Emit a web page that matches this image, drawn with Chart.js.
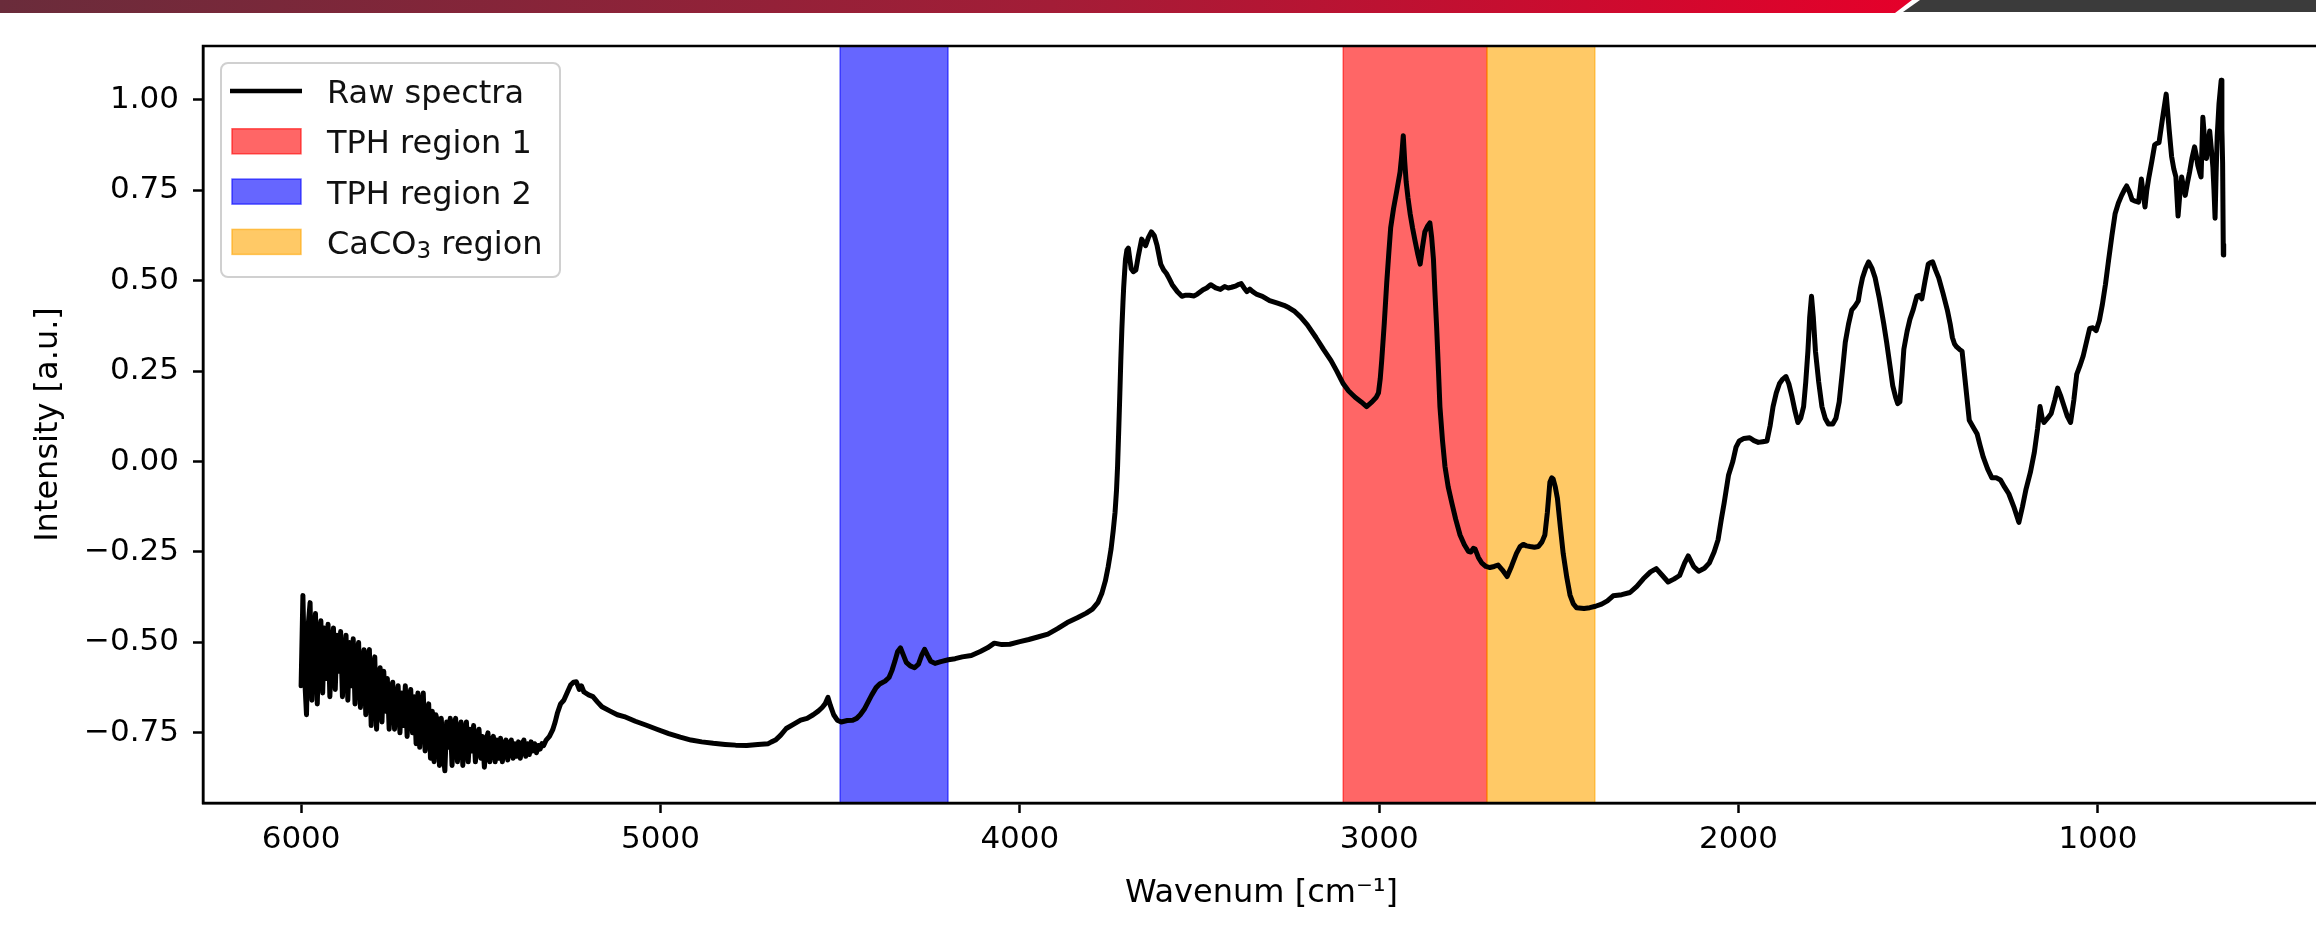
<!DOCTYPE html>
<html lang="en">
<head>
<meta charset="UTF-8">
<title>Raw spectra - TPH and CaCO3 regions</title>
<script src="https://cdn.jsdelivr.net/npm/chart.js@4.4.1/dist/chart.umd.min.js"></script>
<style>
    html, body {
        margin: 0;
        padding: 0;
        background: #fff;
        overflow: hidden;
    }
    #page {
        position: relative;
        width: 2316px;
        height: 947px;
        overflow: hidden;
    }
    #spectrum {
        position: absolute;
        left: 0;
        top: 0;
    }
    .bar-red {
        position: absolute;
        left: 0;
        top: 0;
        width: 1912px;
        height: 13px;
        background: linear-gradient(90deg, #6a2c3b 0%, #a31d37 55%, #e5002a 100%);
        clip-path: polygon(0 0, 1912px 0, 1895px 13px, 0 13px);
    }
    .bar-dark {
        position: absolute;
        left: 1903px;
        top: 0;
        width: 413px;
        height: 12px;
        background: #3b3b3b;
        clip-path: polygon(17px 0, 100% 0, 100% 100%, 0 100%);
    }
</style>
</head>
<body>
<div id="page">
    <canvas id="spectrum" width="2330" height="947"></canvas>
    <div class="bar-red"></div>
    <div class="bar-dark"></div>
</div>

<script>
// values
const wavenumber = [
    6000,5995,5990,5985,5980,5975,5970,5965,5960,5955,
    5950,5945,5940,5935,5930,5925,5920,5915,5910,5905,
    5900,5895,5890,5885,5880,5875,5870,5865,5860,5855,
    5850,5845,5840,5835,5830,5825,5820,5815,5810,5805,
    5800,5795,5790,5785,5780,5775,5770,5765,5760,5755,
    5750,5745,5740,5735,5730,5725,5720,5715,5710,5705,
    5700,5695,5690,5685,5680,5675,5670,5665,5660,5655,
    5650,5645,5640,5635,5630,5625,5620,5615,5610,5605,
    5600,5595,5590,5585,5580,5575,5570,5565,5560,5555,
    5550,5545,5540,5535,5530,5525,5520,5515,5510,5505,
    5500,5495,5490,5485,5480,5475,5470,5465,5460,5455,
    5450,5445,5440,5435,5430,5425,5420,5415,5410,5405,
    5400,5395,5390,5385,5380,5375,5370,5365,5360,5355,
    5350,5345,5340,5335,5330,5325,5318,
    5309,5300,5293,5287,5278,5269,5260,
    5250,5242,5234,5226,5220,5213,5200,5188,5175,5163,
    5140,5120,5101,5070,5039,5010,4977,4945,4915,4885,
    4853,4820,4791,4760,4729,4700,4691,4680,4666,4650,
    4629,4610,4592,4575,4561,4550,4542,4534,4527,4518,
    4508,4497,4480,4465,4454,4444,4433,4420,4412,4400,
    4390,4375,4364,4356,4348,4340,4332,4324,4316,4305,
    4293,4282,4273,4265,4257,4248,4236,4220,4199,4180,
    4160,4135,4110,4090,4071,4050,4028,4000,3975,3950,
    3922,3895,3868,3840,3815,3798,3783,3772,3762,3754,
    3746,3740,3735,3731,3728,3725,3722,3719,3716,3713,
    3711,3708,3706,3702,3698,3694,3690,3684,3677,3670,
    3661,3655,3650,3642,3634,3626,3618,3608,3600,3592,
    3584,3576,3562,3549,3538,3528,3515,3506,3490,3480,
    3469,3455,3442,3430,3420,3411,3398,3390,3384,3376,
    3368,3360,3352,3340,3325,3305,3283,3265,3251,3235,
    3219,3200,3176,3155,3134,3118,3100,3085,3067,3050,
    3035,3020,3008,3002,2997,2993,2986,2979,2973,2968,
    2960,2951,2942,2937,2933,2929,2925,2920,2914,2907,
    2900,2893,2886,2880,2873,2866,2859,2854,2849,2845,
    2840,2835,2831,2824,2817,2808,2798,2787,2775,2763,
    2752,2745,2738,2733,2724,2715,2703,2692,2680,2669,
    2657,2644,2632,2618,2608,2599,2590,2580,2568,2557,
    2547,2539,2532,2525,2520,2516,2510,2504,2496,2488,
    2478,2469,2460,2451,2430,2414,2398,2381,2365,2349,
    2325,2302,2283,2265,2245,2229,2212,2196,2180,2164,
    2150,2140,2125,2111,2095,2081,2068,2057,2048,2040,
    2028,2016,2007,1998,1985,1969,1957,1945,1933,1921,
    1912,1904,1895,1886,1877,1868,1860,1851,1843,1835,
    1827,1819,1813,1807,1802,1797,1792,1786,1777,1768,
    1759,1750,1738,1729,1720,1711,1703,1694,1685,1676,
    1667,1661,1655,1646,1638,1629,1620,1608,1596,1588,
    1579,1571,1563,1557,1551,1545,1540,1531,1523,1514,
    1504,1497,1490,1481,1472,1466,1460,1452,1443,1431,
    1419,1411,1405,1399,1393,1385,1378,1368,1358,1347,
    1336,1328,1319,1307,1295,1283,1271,1260,1248,1234,
    1220,1210,1200,1188,1177,1168,1161,1155,1150,1140,
    1130,1120,1112,1103,1094,1085,1076,1067,1059,1050,
    1041,1032,1023,1014,1005,996,988,979,970,961,
    952,943,934,927,920,912,905,896,887,879,
    874,869,864,858,850,842,836,830,820,810,
    802,795,789,783,777,772,767,762,757,751,
    745,738,731,726,722,717,713,708,703,698,
    694,689,684,680,677,674,671,668,663,657,
    655,653,651,650
];

const intensity = [
    -0.62,-0.37,-0.60,-0.70,-0.45,-0.39,-0.66,-0.50,-0.42,-0.67,
    -0.48,-0.44,-0.64,-0.46,-0.60,-0.45,-0.65,-0.52,-0.46,-0.63,
    -0.48,-0.58,-0.47,-0.65,-0.55,-0.48,-0.66,-0.50,-0.62,-0.49,
    -0.67,-0.53,-0.50,-0.68,-0.57,-0.52,-0.70,-0.54,-0.52,-0.73,
    -0.58,-0.54,-0.74,-0.60,-0.57,-0.72,-0.58,-0.69,-0.60,-0.74,
    -0.63,-0.61,-0.74,-0.66,-0.62,-0.75,-0.64,-0.73,-0.62,-0.76,
    -0.66,-0.63,-0.75,-0.65,-0.78,-0.64,-0.79,-0.68,-0.64,-0.80,
    -0.70,-0.67,-0.82,-0.69,-0.83,-0.70,-0.72,-0.84,-0.71,-0.80,
    -0.855,-0.72,-0.79,-0.71,-0.84,-0.73,-0.71,-0.83,-0.74,-0.72,
    -0.84,-0.75,-0.72,-0.83,-0.74,-0.80,-0.73,-0.83,-0.76,-0.74,
    -0.82,-0.76,-0.845,-0.77,-0.75,-0.83,-0.77,-0.76,-0.83,-0.77,
    -0.82,-0.765,-0.83,-0.78,-0.77,-0.825,-0.78,-0.77,-0.82,-0.78,
    -0.815,-0.775,-0.82,-0.78,-0.77,-0.815,-0.78,-0.81,-0.775,-0.80,
    -0.78,-0.805,-0.785,-0.795,-0.78,-0.785,-0.77,
    -0.76,-0.742,-0.72,-0.696,-0.67,-0.66,-0.64,
    -0.618,-0.61,-0.609,-0.63,-0.62,-0.637,-0.645,-0.65,-0.665,-0.678,
    -0.69,-0.70,-0.705,-0.718,-0.729,-0.74,-0.752,-0.762,-0.77,-0.775,
    -0.779,-0.782,-0.784,-0.785,-0.782,-0.78,-0.775,-0.77,-0.757,-0.738,
    -0.726,-0.715,-0.71,-0.70,-0.69,-0.68,-0.67,-0.652,-0.675,-0.70,
    -0.715,-0.72,-0.716,-0.715,-0.71,-0.70,-0.685,-0.66,-0.645,-0.625,
    -0.615,-0.607,-0.597,-0.578,-0.553,-0.525,-0.515,-0.535,-0.555,-0.565,
    -0.57,-0.56,-0.535,-0.519,-0.535,-0.552,-0.558,-0.553,-0.548,-0.545,
    -0.54,-0.536,-0.525,-0.515,-0.502,-0.506,-0.505,-0.498,-0.492,-0.485,
    -0.477,-0.462,-0.445,-0.432,-0.419,-0.408,-0.39,-0.365,-0.33,-0.29,
    -0.241,-0.19,-0.14,-0.08,-0.013,0.08,0.178,0.28,0.368,0.44,
    0.482,0.53,0.559,0.585,0.59,0.56,0.533,0.525,0.53,0.57,
    0.615,0.605,0.597,0.62,0.635,0.625,0.597,0.546,0.53,0.52,
    0.505,0.489,0.47,0.457,0.46,0.46,0.458,0.463,0.475,0.48,
    0.489,0.48,0.476,0.484,0.48,0.482,0.486,0.49,0.492,0.48,
    0.47,0.477,0.47,0.462,0.457,0.445,0.438,0.432,0.425,0.415,
    0.40,0.378,0.343,0.31,0.279,0.25,0.215,0.195,0.178,0.165,
    0.152,0.165,0.178,0.19,0.23,0.279,0.38,0.495,0.58,0.647,
    0.70,0.749,0.80,0.85,0.901,0.83,0.774,0.73,0.686,0.645,
    0.609,0.575,0.546,0.59,0.635,0.65,0.66,0.62,0.559,0.47,
    0.368,0.25,0.152,0.06,-0.013,-0.07,-0.114,-0.16,-0.203,-0.23,
    -0.248,-0.25,-0.24,-0.242,-0.265,-0.28,-0.29,-0.293,-0.29,-0.286,
    -0.30,-0.318,-0.29,-0.254,-0.235,-0.229,-0.233,-0.235,-0.237,-0.235,
    -0.222,-0.203,-0.14,-0.057,-0.045,-0.048,-0.07,-0.102,-0.18,-0.254,
    -0.32,-0.369,-0.393,-0.404,-0.406,-0.404,-0.40,-0.394,-0.385,-0.371,
    -0.368,-0.362,-0.345,-0.324,-0.305,-0.296,-0.315,-0.333,-0.325,-0.315,
    -0.28,-0.261,-0.29,-0.303,-0.295,-0.28,-0.25,-0.216,-0.16,-0.114,
    -0.038,0.0,0.04,0.057,0.064,0.066,0.058,0.053,0.055,0.057,
    0.1,0.152,0.19,0.216,0.228,0.235,0.215,0.178,0.14,0.108,
    0.12,0.152,0.22,0.305,0.40,0.457,0.40,0.305,0.22,0.152,
    0.12,0.104,0.104,0.12,0.165,0.25,0.33,0.38,0.419,0.43,
    0.444,0.48,0.508,0.535,0.552,0.535,0.508,0.45,0.381,0.33,
    0.267,0.21,0.178,0.16,0.165,0.24,0.311,0.36,0.394,0.42,
    0.457,0.46,0.45,0.50,0.546,0.55,0.552,0.53,0.508,0.465,
    0.419,0.38,0.343,0.325,0.317,0.31,0.305,0.21,0.114,0.095,
    0.076,0.045,0.012,-0.02,-0.045,-0.045,-0.051,-0.07,-0.089,-0.125,
    -0.168,-0.125,-0.076,-0.03,0.025,0.09,0.152,0.12,0.108,0.12,
    0.133,0.17,0.203,0.18,0.152,0.125,0.108,0.17,0.241,0.265,
    0.292,0.33,0.368,0.37,0.362,0.39,0.432,0.49,0.559,0.625,
    0.686,0.715,0.736,0.75,0.762,0.745,0.724,0.72,0.717,0.781,
    0.74,0.704,0.75,0.787,0.83,0.876,0.88,0.882,0.95,1.016,
    0.92,0.844,0.81,0.787,0.679,0.74,0.787,0.76,0.736,0.77,
    0.80,0.84,0.87,0.845,0.819,0.80,0.787,0.952,0.89,0.838,
    0.87,0.914,0.86,0.813,0.75,0.673,0.80,0.901,0.99,1.054,
    0.92,0.825,0.571,0.60
];

const seriesName = 'Raw spectra';
const regionNames = ['TPH region 1', 'TPH region 2', 'CaCO₃ region'];
const regionFrom = [3100, 4500, 2700];
const regionTo = [2700, 4200, 2400];
const xTicks = [6000, 5000, 4000, 3000, 2000, 1000];
const yTicks = [-0.75, -0.5, -0.25, 0, 0.25, 0.5, 0.75, 1.0];
const xTitle = 'Wavenum [cm⁻¹]';
const yTitle = 'Intensity [a.u.]';

if (wavenumber.length !== intensity.length) {
    console.error('data length mismatch', wavenumber.length, intensity.length);
}

// styling
const regionFill = ['rgba(255,0,0,0.6)', 'rgba(0,0,255,0.6)', 'rgba(255,165,0,0.6)'];
const FONT = '"DejaVu Sans", sans-serif';
Chart.defaults.font.family = FONT;
Chart.defaults.color = '#000';

// shaded wavenumber ranges, placed with the x scale
const regionsPlugin = {
    id: 'regions',
    beforeDatasetsDraw(chart) {
        const { ctx, chartArea: a, scales: { x } } = chart;
        ctx.save();
        regionNames.forEach((name, i) => {
            const x0 = x.getPixelForValue(regionFrom[i]);
            const x1 = x.getPixelForValue(regionTo[i]);
            ctx.fillStyle = regionFill[i];
            ctx.fillRect(x0, a.top, x1 - x0, a.bottom - a.top);
            ctx.strokeStyle = regionFill[i];
            ctx.lineWidth = 1.5;
            ctx.strokeRect(x0, a.top, x1 - x0, a.bottom - a.top);
        });
        ctx.restore();
    }
};

// axes box (top and right spines too)
const framePlugin = {
    id: 'frame',
    afterDatasetsDraw(chart) {
        const { ctx, chartArea: a } = chart;
        ctx.save();
        ctx.strokeStyle = '#000';
        ctx.lineWidth = 2.5;
        ctx.strokeRect(a.left, a.top, a.right - a.left, a.bottom - a.top);
        ctx.restore();
    }
};

// legend label with a real subscript digit, like matplotlib mathtext
function drawLabel(ctx, text, x, baseline) {
    const parts = text.split('₃');
    ctx.font = '32px ' + FONT;
    ctx.fillText(parts[0], x, baseline);
    if (parts.length < 2) return;
    let cx = x + ctx.measureText(parts[0]).width;
    ctx.font = '23px ' + FONT;
    ctx.fillText('3', cx, baseline + 4);
    cx += ctx.measureText('3').width;
    ctx.font = '32px ' + FONT;
    ctx.fillText(parts[1], cx, baseline);
}

// matplotlib-like legend in the upper left corner of the axes
const legendPlugin = {
    id: 'boxLegend',
    afterDraw(chart) {
        const { ctx, chartArea: a } = chart;
        const left = a.left + 18, top = a.top + 17, w = 339, h = 214;
        ctx.save();
        ctx.beginPath();
        ctx.roundRect(left, top, w, h, 7);
        ctx.fillStyle = 'rgba(255,255,255,0.8)';
        ctx.fill();
        ctx.strokeStyle = '#d0d0d0';
        ctx.lineWidth = 2;
        ctx.stroke();

        const entries = [{ name: seriesName }].concat(
            regionNames.map((n, i) => ({ name: n, fill: regionFill[i] })));
        ctx.textBaseline = 'alphabetic';
        entries.forEach((e, i) => {
            const cy = top + 28 + i * 50.3;
            if (!e.fill) {
                ctx.strokeStyle = '#000';
                ctx.lineWidth = 4.5;
                ctx.beginPath();
                ctx.moveTo(left + 9, cy);
                ctx.lineTo(left + 81, cy);
                ctx.stroke();
            } else {
                ctx.fillStyle = e.fill;
                ctx.fillRect(left + 11, cy - 12.5, 69, 25);
                ctx.strokeStyle = e.fill;
                ctx.lineWidth = 1.5;
                ctx.strokeRect(left + 11, cy - 12.5, 69, 25);
            }
            ctx.fillStyle = '#111';
            drawLabel(ctx, e.name, left + 106, cy + 12);
        });
        ctx.restore();
    }
};

const axisGrid = {
    display: true,
    drawOnChartArea: false,
    drawTicks: true,
    tickLength: 10,
    tickWidth: 2.5,
    tickColor: '#000',
    color: '#000'
};

new Chart(document.getElementById('spectrum'), {
    type: 'line',
    data: {
        datasets: [{
            label: seriesName,
            data: wavenumber.map((w, i) => ({ x: w, y: intensity[i] })),
            borderColor: '#000',
            borderWidth: 5,
            borderJoinStyle: 'round',
            borderCapStyle: 'round',
            pointRadius: 0,
            tension: 0,
            fill: false
        }]
    },
    options: {
        responsive: false,
        animation: false,
        devicePixelRatio: 1,
        layout: { padding: { top: 46, right: 10, left: 0, bottom: 0 } },
        plugins: {
            legend: { display: false },
            tooltip: { enabled: false }
        },
        scales: {
            x: {
                type: 'linear',
                reverse: true,
                min: 382,
                max: 6273,
                afterFit: s => { s.height = 144; },
                afterBuildTicks: s => { s.ticks = xTicks.map(v => ({ value: v })); },
                ticks: {
                    callback: v => String(v),
                    font: { size: 31 },
                    color: '#000',
                    padding: 8,
                    maxRotation: 0,
                    autoSkip: false
                },
                grid: axisGrid,
                border: { display: true, color: '#000', width: 2.5 },
                title: {
                    display: true,
                    text: xTitle,
                    color: '#000',
                    font: { size: 32, lineHeight: 1.2 },
                    padding: { top: 0, bottom: 34 }
                }
            },
            y: {
                type: 'linear',
                min: -0.944,
                max: 1.149,
                afterFit: s => { s.width = 203; },
                afterBuildTicks: s => { s.ticks = yTicks.map(v => ({ value: v })); },
                ticks: {
                    callback: v => (v < 0 ? '\u2212' : '') + Math.abs(v).toFixed(2),
                    font: { size: 31 },
                    color: '#000',
                    padding: 14,
                    autoSkip: false
                },
                grid: axisGrid,
                border: { display: true, color: '#000', width: 2.5 },
                title: {
                    display: true,
                    text: yTitle,
                    color: '#000',
                    font: { size: 32, lineHeight: 1.2 },
                    padding: { top: 29, bottom: 0 }
                }
            }
        }
    },
    plugins: [regionsPlugin, framePlugin, legendPlugin]
});
</script>
</body>
</html>
